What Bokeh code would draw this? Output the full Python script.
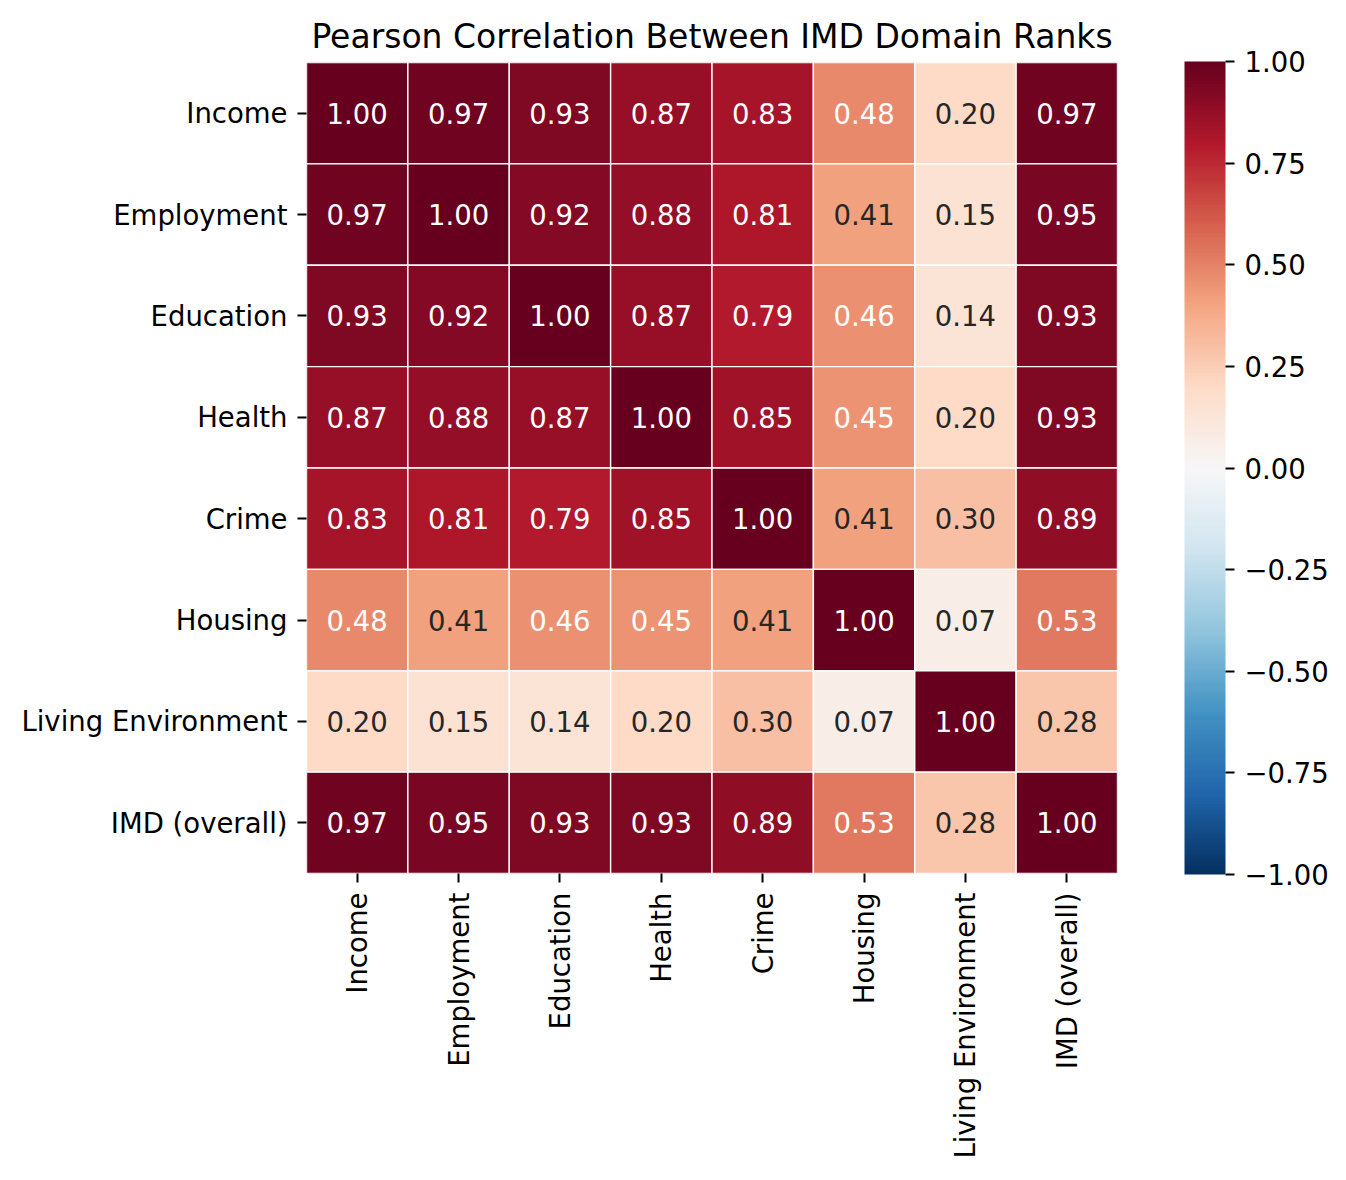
import math
import numpy as np
from bokeh.plotting import figure
from bokeh.models import (ColumnDataSource, LinearColorMapper, ColorBar, FixedTicker,
                          CustomJSTickFormatter, FactorRange)
from bokeh.core.properties import value
from bokeh.embed import file_html
from bokeh.resources import INLINE

# ---------------- data ----------------
domains = ["Income", "Employment", "Education", "Health", "Crime",
           "Housing", "Living Environment", "IMD (overall)"]

income      = [1.00, 0.97, 0.93, 0.87, 0.83, 0.48, 0.20, 0.97]
employment  = [0.97, 1.00, 0.92, 0.88, 0.81, 0.41, 0.15, 0.95]
education   = [0.93, 0.92, 1.00, 0.87, 0.79, 0.46, 0.14, 0.93]
health      = [0.87, 0.88, 0.87, 1.00, 0.85, 0.45, 0.20, 0.93]
crime       = [0.83, 0.81, 0.79, 0.85, 1.00, 0.41, 0.30, 0.89]
housing     = [0.48, 0.41, 0.46, 0.45, 0.41, 1.00, 0.07, 0.53]
living_env  = [0.20, 0.15, 0.14, 0.20, 0.30, 0.07, 1.00, 0.28]
imd_overall = [0.97, 0.95, 0.93, 0.93, 0.89, 0.53, 0.28, 1.00]

rows = [income, employment, education, health, crime, housing, living_env, imd_overall]

cbar_ticks = [-1.0, -0.75, -0.5, -0.25, 0.0, 0.25, 0.5, 0.75, 1.0]

# ---------------- colormap (RdBu_r, 256 levels) ----------------
rdbu = ["#67001f", "#b2182b", "#d6604d", "#f4a582", "#fddbc7", "#f7f7f7",
        "#d1e5f0", "#92c5de", "#4393c3", "#2166ac", "#053061"][::-1]
anchors = np.array([[int(c[i:i + 2], 16) / 255 for i in (1, 3, 5)] for c in rdbu])
pos = np.linspace(0, 1, len(rdbu))
xs = np.linspace(0, 1, 256)
lut = np.stack([np.interp(xs, pos, anchors[:, k]) for k in range(3)], axis=1)
palette = ["#%02x%02x%02x" % tuple(int(round(v * 255)) for v in c) for c in lut]


def lum(rgb):
    lin = [c / 12.92 if c <= 0.03928 else ((c + 0.055) / 1.055) ** 2.4 for c in rgb]
    return 0.2126 * lin[0] + 0.7152 * lin[1] + 0.0722 * lin[2]


xv, yv, vals, labels, tcols = [], [], [], [], []
for r, row in zip(domains, rows):
    for c, v in zip(domains, row):
        xv.append(c)
        yv.append(r)
        vals.append(v)
        labels.append(f"{v:.2f}")
        idx = min(255, max(0, int((v + 1) / 2 * 256)))
        tcols.append("#262626" if lum(lut[idx]) > 0.408 else "#ffffff")

src = ColumnDataSource(dict(x=xv, y=yv, val=vals, label=labels, tc=tcols))
mapper = LinearColorMapper(palette=palette, low=-1, high=1)

FONT = "DejaVu Sans"

p = figure(x_range=FactorRange(factors=domains),
           y_range=FactorRange(factors=domains[::-1]),
           frame_width=811, frame_height=811,
           min_border_left=306, min_border_top=62,
           min_border_right=229, min_border_bottom=307,
           output_backend="svg", toolbar_location=None,
           title="Pearson Correlation Between IMD Domain Ranks")

p.rect(x="x", y="y", width=1, height=1, source=src,
       fill_color={"field": "val", "transform": mapper},
       line_color="white", line_width=1.4)
p.text(x="x", y="y", text="label", source=src, text_color="tc",
       text_align="center", text_baseline="middle",
       text_font=value(FONT), text_font_size=value("27.5px"))

p.title.text_font = FONT
p.title.text_font_size = "33px"
p.title.text_font_style = "normal"
p.title.align = "center"
p.title.text_color = "black"
p.title.standoff = 13

p.grid.visible = False
p.outline_line_color = None
for ax in (p.xaxis, p.yaxis):
    ax.axis_line_color = None
    ax.major_tick_in = 0
    ax.major_tick_out = 9
    ax.major_tick_line_width = 2
    ax.major_tick_line_color = "black"
    ax.major_label_text_font = FONT
    ax.major_label_text_font_size = "27.5px"
    ax.major_label_text_color = "black"
    ax.major_label_standoff = 10
p.xaxis.major_label_orientation = math.pi / 2

cb = ColorBar(color_mapper=mapper, ticker=FixedTicker(ticks=cbar_ticks),
              formatter=CustomJSTickFormatter(
                  code='return (tick < 0 ? "\\u2212" : "") + Math.abs(tick).toFixed(2);'),
              width=41, height=813, location=(67, -1), margin=0, padding=0,
              major_tick_in=0, major_tick_out=9,
              major_tick_line_color="black", major_tick_line_width=2,
              minor_tick_line_color=None,
              label_standoff=10,
              major_label_text_font=FONT, major_label_text_font_size="27.5px",
              major_label_text_color="black",
              bar_line_color=None, border_line_color=None,
              background_fill_color=None)
p.add_layout(cb, "right")

open("out.html", "w").write(file_html(p, INLINE))
